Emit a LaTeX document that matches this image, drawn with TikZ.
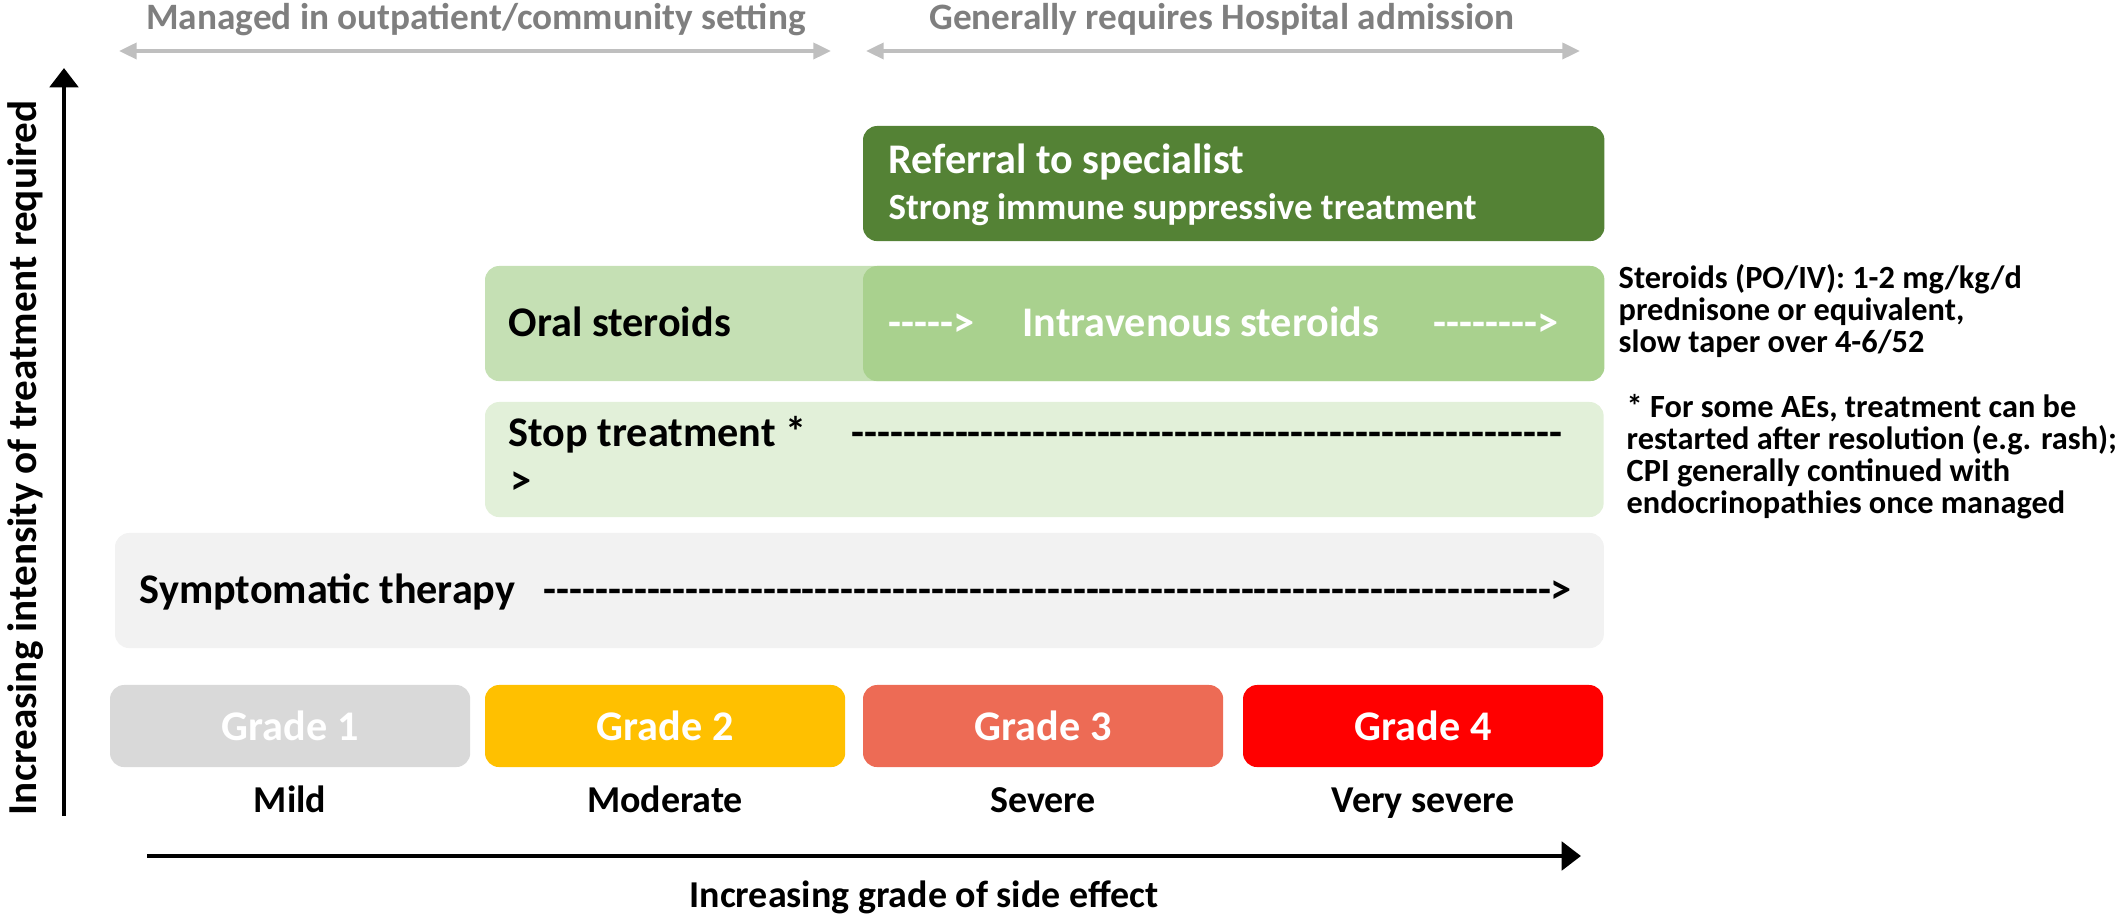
\documentclass[tikz,border=0pt]{standalone}
\usepackage{fontspec}
\setmainfont{Carlito}[Ligatures=TeXOff]
\usetikzlibrary{arrows.meta,positioning}

\definecolor{specgreen}{HTML}{548235}
\definecolor{oralgreen}{HTML}{C5E0B4}
\definecolor{ivgreen}{HTML}{A9D18E}
\definecolor{stopgreen}{HTML}{E2F0D9}
\definecolor{symgrey}{HTML}{F2F2F2}
\definecolor{gradeone}{HTML}{D9D9D9}
\definecolor{gradetwo}{HTML}{FFC000}
\definecolor{gradethree}{HTML}{ED6B55}
\definecolor{gradefour}{HTML}{FF0000}
\definecolor{settxt}{HTML}{7F7F7F}
\definecolor{setline}{HTML}{BFBFBF}

\tikzset{
	band/.style={rounded corners=4pt, anchor=north west, inner sep=0pt, outer sep=0pt},
	txt/.style={font=\bfseries\fontsize{12}{14}\selectfont, inner sep=0pt, anchor=base west},
	gradebox/.style={band, minimum width=3.6cm, minimum height=0.82cm, text=white,
		font=\bfseries\fontsize{12}{14}\selectfont},
	sevtxt/.style={txt, anchor=base, font=\bfseries\fontsize{10.8}{13}\selectfont},
	note/.style={font=\bfseries\fontsize{9.2}{9.1}\selectfont, inner sep=0pt, align=left, anchor=base west},
	settext/.style={font=\bfseries\fontsize{10.6}{12}\selectfont, text=settxt, inner sep=0pt, anchor=base},
	span/.style={draw=setline, line width=1.1pt,
		{Triangle[length=5pt,width=4.5pt]}-{Triangle[length=5pt,width=4.5pt]}},
	axis/.style={line width=1.4pt, -{Triangle[length=5.5pt,width=8pt]}}
}

% a row of typed hyphens
\newcommand\dashrun[1]{\foreach\k in {1,...,#1}{-}}

\begin{document}
\begin{tikzpicture}[x=0.01cm, y=-0.01cm]
		\useasboundingbox (0,0) rectangle (2118,919);

		% where the patient is treated
		\node[settext] (outtxt) at (476,30) {Managed in outpatient/community setting};
		\node[settext] (hosptxt) at (1222,30) {Generally requires Hospital admission};
		\coordinate (outL) at (119,51);
		\coordinate (outR) at (831,51);
		\coordinate (hospL) at (866,51);
		\coordinate (hospR) at (1580,51);
		\draw[span] (outL) -- (outR);
		\draw[span] (hospL) -- (hospR);

		% axes
		\coordinate (yfoot) at (64,816);
		\coordinate (ytip) at (64,68);
		\coordinate (xfoot) at (147,856);
		\coordinate (xtip) at (1581,856);
		\draw[axis] (yfoot) -- (ytip);
		\draw[axis] (xfoot) -- (xtip);
		\node[txt, anchor=center, rotate=90, font=\bfseries\fontsize{11.7}{13}\selectfont] (ylbl) at (26,458)
			{Increasing intensity of treatment required};
		\node[sevtxt] (xlbl) at (924,907) {Increasing grade of side effect};

		% treatment bands
		\node[band, fill=specgreen, minimum width=7.41cm, minimum height=1.15cm] (referral) at (863,126) {};
		\node[txt, text=white] (reftxt) at (888,174) {Referral to specialist};
		\node[txt, text=white, font=\bfseries\fontsize{10.5}{12}\selectfont] (reftxt2) at (888,220)
			{Strong immune suppressive treatment};

		\node[band, fill=oralgreen, minimum width=11.18cm, minimum height=1.15cm] (oral) at (485,266) {};
		\node[band, fill=ivgreen, minimum width=7.41cm, minimum height=1.15cm] (iv) at (863,266) {};
		\node[txt] (oraltxt) at (508,337) {Oral steroids};
		\node[txt, text=white] (ivpre) at (888,337) {----->};
		\node[txt, text=white] (ivtxt) at (1022,337) {Intravenous steroids};
		\node[txt, text=white] (ivpost) at (1433,337) {-------->};

		\node[band, fill=stopgreen, minimum width=11.18cm, minimum height=1.15cm] (stop) at (485,402) {};
		\node[txt] (stoptxt) at (508,447) {Stop treatment *};
		\node[txt] (stopdash) at (851,447) {\dashrun{55}};
		\node[txt] (stopend) at (510,495) {>};

		\node[band, fill=symgrey, minimum width=14.88cm, minimum height=1.15cm] (symp) at (115,533) {};
		\node[txt] (symptxt) at (139,604) {Symptomatic therapy};
		\node[txt] (sympdash) at (543,604) {\dashrun{78}>};

		% grades
		\node[gradebox, fill=gradeone] (g1) at (110,685) {Grade 1};
		\node[gradebox, fill=gradetwo] (g2) at (485,685) {Grade 2};
		\node[gradebox, fill=gradethree] (g3) at (863,685) {Grade 3};
		\node[gradebox, fill=gradefour] (g4) at (1243,685) {Grade 4};
		\node[sevtxt] (mild) at (290,812) {Mild};
		\node[sevtxt] (moderate) at (665,812) {Moderate};
		\node[sevtxt] (severe) at (1043,812) {Severe};
		\node[sevtxt] (vsevere) at (1423,812) {Very severe};

		% side notes (placed by the baseline of their last line)
		\node[note] (steroidnote) at (1618,353)
			{Steroids (PO/IV): 1-2 mg/kg/d\\prednisone or equivalent,\\slow taper over 4-6/52};
		\node[note] (stopnote) at (1626,514)
			{* For some AEs, treatment can be\\restarted after resolution (e.g. rash);\\CPI generally continued with\\endocrinopathies once managed};
\end{tikzpicture}
\end{document}
